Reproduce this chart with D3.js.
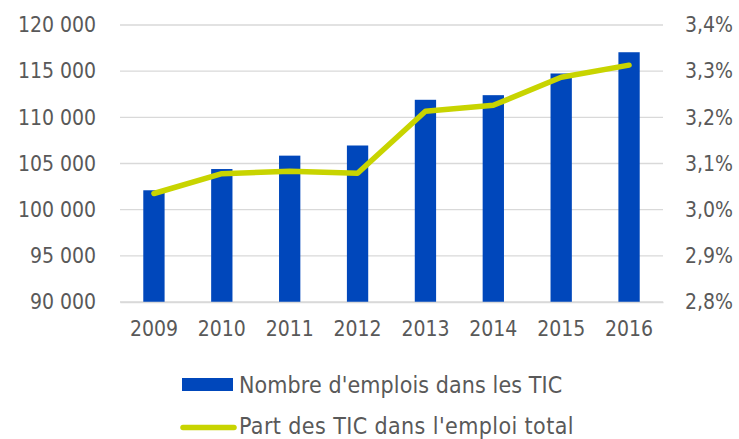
<!DOCTYPE html>
<html>
<head>
<meta charset="utf-8">
<script src="https://cdn.jsdelivr.net/npm/d3@7"></script>
<style>
  html, body { margin: 0; padding: 0; background: #ffffff; }
  svg { display: block; }
  text { font-family: "DejaVu Sans Condensed", "DejaVu Sans", sans-serif; font-stretch: condensed; fill: #595959; }
</style>
</head>
<body>
<svg id="chart" width="739" height="439"></svg>
<script>
// ---- data ----
const categories = ["2009", "2010", "2011", "2012", "2013", "2014", "2015", "2016"];
const emplois = [102100, 104400, 105850, 106950, 111900, 112400, 114750, 117050];
const partTIC = [3.035, 3.078, 3.083, 3.079, 3.213, 3.226, 3.287, 3.313];
const leftTicks = [90000, 95000, 100000, 105000, 110000, 115000, 120000];
const rightTicks = [2.8, 2.9, 3.0, 3.1, 3.2, 3.3, 3.4];
const seriesNames = ["Nombre d'emplois dans les TIC", "Part des TIC dans l'emploi total"];

// ---- layout ----
const plot = { left: 120, right: 663, top: 25, bottom: 302 };
const barColor = "#0047BB";
const lineColor = "#C8D400";
const gridColor = "#D9D9D9";
const fsAxis = 21;
const fsLegend = 23;

const svg = d3.select("#chart");
const fr = d3.formatLocale({ decimal: ",", thousands: "\u00a0", grouping: [3], currency: ["", " €"] });
const fmtLeft = fr.format(",");
const fmtRight = v => fr.format(".1f")(v) + "%";

const x = d3.scaleBand().domain(categories).range([plot.left, plot.right])
  .paddingInner(0.686).paddingOuter(0.343);
const yL = d3.scaleLinear().domain([90000, 120000]).range([plot.bottom, plot.top]);
const yR = d3.scaleLinear().domain([2.8, 3.4]).range([plot.bottom, plot.top]);

// gridlines
svg.append("g").selectAll("line").data(leftTicks).join("line")
  .attr("x1", plot.left).attr("x2", plot.right)
  .attr("y1", d => yL(d)).attr("y2", d => yL(d))
  .attr("stroke", gridColor).attr("stroke-width", 1.3);

// left axis labels
const gL = svg.append("g").attr("transform", `translate(${plot.left},0)`)
  .call(d3.axisLeft(yL).tickValues(leftTicks).tickFormat(fmtLeft).tickSize(0).tickPadding(24));
gL.select(".domain").remove();
gL.selectAll("text").attr("font-size", fsAxis).style("font-family", null);

// right axis labels
const gR = svg.append("g").attr("transform", `translate(${plot.right},0)`)
  .call(d3.axisRight(yR).tickValues(rightTicks).tickFormat(fmtRight).tickSize(0).tickPadding(22));
gR.select(".domain").remove();
gR.selectAll("text").attr("font-size", fsAxis).style("font-family", null);

// bars
svg.append("g").selectAll("rect").data(categories).join("rect")
  .attr("x", d => x(d))
  .attr("width", x.bandwidth())
  .attr("y", (d, i) => yL(emplois[i]))
  .attr("height", (d, i) => yL(90000) - yL(emplois[i]))
  .attr("fill", barColor);

// bottom axis
const gX = svg.append("g").attr("transform", `translate(0,${plot.bottom})`)
  .call(d3.axisBottom(x).tickSize(0).tickPadding(19));
gX.select(".domain").attr("stroke", gridColor).attr("stroke-width", 1.3);
gX.selectAll("text").attr("font-size", fsAxis).style("font-family", null);

// line
const line = d3.line()
  .x((d, i) => x(categories[i]) + x.bandwidth() / 2)
  .y(d => yR(d));
svg.append("path").datum(partTIC)
  .attr("d", line)
  .attr("fill", "none")
  .attr("stroke", lineColor)
  .attr("stroke-width", 5.5)
  .attr("stroke-linecap", "round")
  .attr("stroke-linejoin", "round");

// legend
const lg = svg.append("g");
lg.append("rect").attr("x", 182).attr("y", 378).attr("width", 51).attr("height", 13).attr("fill", barColor);
lg.append("text").attr("x", 239).attr("y", 392.5).attr("font-size", fsLegend).attr("letter-spacing", 0.1).text(seriesNames[0]);
lg.append("line").attr("x1", 183).attr("x2", 234).attr("y1", 427.5).attr("y2", 427.5)
  .attr("stroke", lineColor).attr("stroke-width", 5.5).attr("stroke-linecap", "round");
lg.append("text").attr("x", 239).attr("y", 434).attr("font-size", fsLegend).attr("letter-spacing", 0.4).text(seriesNames[1]);
</script>
</body>
</html>
